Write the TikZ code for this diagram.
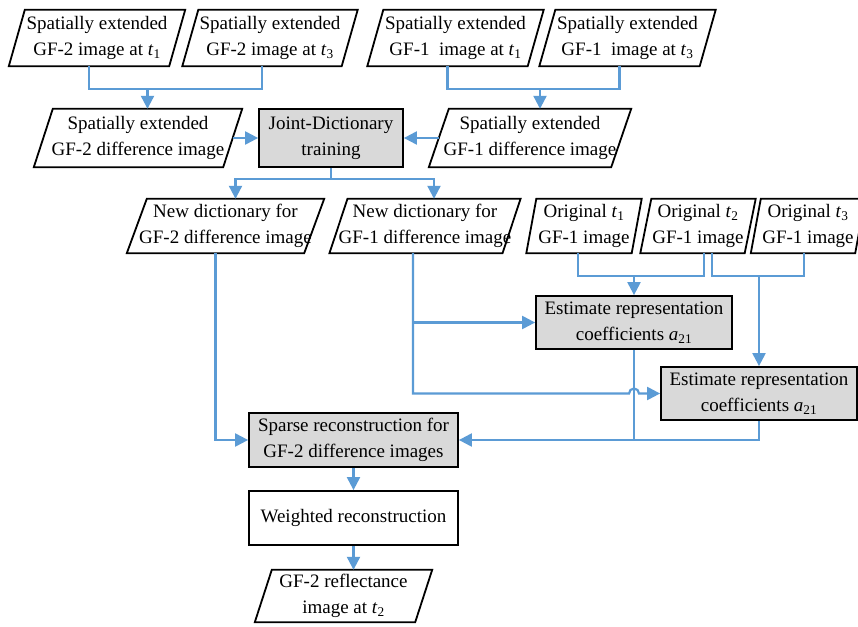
\documentclass[tikz,border=0pt]{standalone}
\usepackage{fontspec}
\setmainfont{Liberation Serif}
\usetikzlibrary{arrows.meta,calc}
\definecolor{lineblue}{HTML}{5B9BD5}
\definecolor{boxgray}{HTML}{D9D9D9}
\newcommand{\tsub}[1]{\textit{t}\textsubscript{#1}}
\newcommand{\asub}{\textit{a}\textsubscript{21}}
\tikzset{
  every node/.style={font=\fontsize{19}{26}\selectfont},
  ptext/.style={inner sep=0pt, align=center},
  pline/.style={draw=black, line width=1.8pt, line join=miter},
  procbox/.style={draw=black, line width=1.8pt, inner sep=0pt, align=center, fill=boxgray},
  plainbox/.style={procbox, fill=white},
  conn/.style={draw=lineblue, line width=2.2pt},
  arr/.style={conn, -{Triangle[length=13pt,width=13pt]}},
}
\newcommand{\pgram}[7]{%
  \node[ptext, minimum width=#4pt, minimum height=#5pt] (#1) at (#2,#3) {#7};
  \draw[pline] ([xshift=#6pt]#1.north west) -- ([xshift=#6pt]#1.north east) -- ([xshift=-#6pt]#1.south east) -- ([xshift=-#6pt]#1.south west) -- cycle;
}
\begin{document}
\begin{tikzpicture}[x=1pt,y=1pt]
\fill[white] (0,0) rectangle (858,-626);
\useasboundingbox (0,0) rectangle (858,-626);
% row 1
\pgram{A1}{97}{-38}{160}{56}{8}{Spatially extended\\ GF-2 image at \tsub{1}}
\pgram{A2}{270}{-38}{159}{56}{8}{Spatially extended\\ GF-2 image at \tsub{3}}
\pgram{A3}{455.5}{-38}{160}{56}{8}{Spatially extended\\ GF-1~ image at \tsub{1}}
\pgram{A4}{627.5}{-38}{160}{56}{8}{Spatially extended\\ GF-1~ image at \tsub{3}}
% row 2
\pgram{B1}{138}{-138}{189}{58}{9.5}{Spatially extended\\GF-2 difference image}
\node[procbox, minimum width=144pt, minimum height=58pt] (J) at (331,-138) {Joint-Dictionary\\training};
\pgram{B2}{530}{-138}{182}{58}{10}{Spatially extended\\GF-1 difference image}
% row 3
\pgram{C1}{225.5}{-226}{177}{54}{10}{New dictionary for\\GF-2 difference image}
\pgram{C2}{425}{-226}{172}{54}{9}{New dictionary for\\GF-1 difference image}
\pgram{D1}{584}{-226}{105}{54}{5}{Original \tsub{1}\\GF-1 image}
\pgram{D2}{698}{-226}{104}{54}{5.5}{Original \tsub{2}\\GF-1 image}
\pgram{D3}{808}{-226}{104}{54}{5}{Original \tsub{3}\\GF-1 image}
% estimate boxes
\node[procbox, minimum width=196pt, minimum height=53pt] (E1) at (634,-322.5) {Estimate representation\\coefficients \asub};
\node[procbox, minimum width=196pt, minimum height=53pt] (E2) at (759,-393.5) {Estimate representation\\coefficients \asub};
% bottom column
\node[procbox, minimum width=209pt, minimum height=54pt] (S) at (353.5,-440) {Sparse reconstruction for\\GF-2 difference images};
\node[plainbox, minimum width=209pt, minimum height=54pt] (W) at (353.5,-518) {Weighted reconstruction};
\pgram{F}{343.5}{-596}{160}{52}{8.5}{GF-2 reflectance\\image at \tsub{2}}
% connectors
\draw[conn] ([xshift=-8pt]A1.south) -- ++(0,-23) -| ([xshift=-8pt]A2.south);
\draw[arr] ([xshift=9.5pt,yshift=20pt]B1.north) -- ([xshift=9.5pt]B1.north);
\draw[conn] ([xshift=-8pt]A3.south) -- ++(0,-23) -| ([xshift=-8pt]A4.south);
\draw[arr] ([xshift=10pt,yshift=20pt]B2.north) -- ([xshift=10pt]B2.north);
\draw[arr] (B1.east) -- (J.west);
\draw[arr] (B2.west) -- (J.east);
\draw[conn] (J.south) -- ++(0,-11) coordinate (jj);
\draw[arr] (jj) -| ([xshift=10pt]C1.north);
\draw[arr] (jj) -| ([xshift=9pt]C2.north);
\draw[conn] ([xshift=-6pt]D1.south) -- ++(0,-23) coordinate (d1) -| ([xshift=6pt]D2.south);
\draw[arr] (d1 -| E1.north) -- (E1.north);
\draw[conn] ([xshift=14pt]D2.south) -- ++(0,-23) coordinate (d2) -| ([xshift=-4pt]D3.south);
\draw[arr] (d2 -| E2.north) -- (E2.north);
\draw[arr] ([xshift=-12pt]C2.south) |- (E1.west);
\path (E1.south |- E2.west) coordinate (bc);
\draw[arr] ([xshift=-12pt]C2.south) |- ([xshift=-5pt]bc) arc[start angle=180, end angle=0, radius=5pt] -- (E2.west);
\draw[conn] (E1.south) -- (E1.south |- S.east);
\draw[arr] (E2.south) |- (S.east);
\draw[arr] ([xshift=-10pt]C1.south) |- (S.west);
\draw[arr] (S.south) -- (W.north);
\draw[arr] (W.south) -- (W.south |- F.north);
\end{tikzpicture}
\end{document}
